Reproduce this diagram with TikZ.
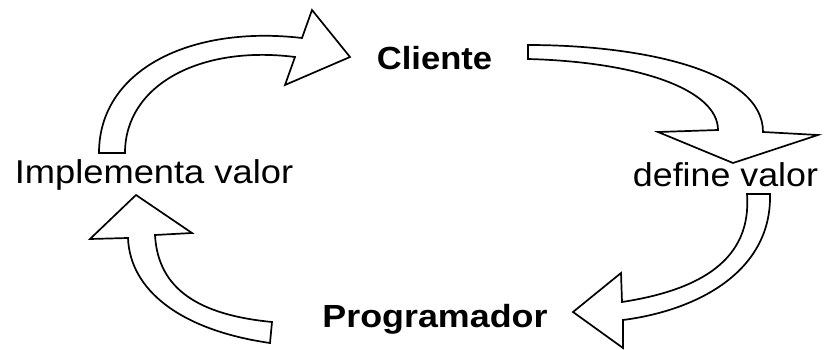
\documentclass[tikz,border=0pt]{standalone}
\usepackage{fontspec}
\setmainfont{Liberation Sans}
\begin{document}
\begin{tikzpicture}[x=1pt,y=-1pt,
  blockarrow/.style={draw=black,fill=white,line width=1.7pt,line join=miter},
  boldlabel/.style={inner sep=0pt,anchor=base,font=\fontsize{32}{36}\selectfont\bfseries},
  plainlabel/.style={inner sep=0pt,anchor=base,font=\fontsize{33}{38}\selectfont}]
\useasboundingbox (0,0) rectangle (824,350);

% labels
\node[boldlabel]  (cliente) at (434.5,70)  {\scalebox{1.08}[1]{Cliente}};
\node[boldlabel]  (prog)    at (435,327)   {\scalebox{1.12}[1]{Programador}};
\node[plainlabel] (impl)    at (154,183)   {\scalebox{1.10}[1]{Implementa valor}};
\node[plainlabel] (define)  at (725.5,186) {\scalebox{1.085}[1]{define valor}};

% Implementa valor -> Cliente
\draw[blockarrow] (99,153) .. controls (99,70) and (190,25) .. (302,38)
  -- (312,10) -- (350,57) -- (285,85) -- (295,57)
  .. controls (200,45) and (125,85) .. (125,153) -- cycle;

% Cliente -> define valor
\draw[blockarrow] (528,45) .. controls (640,45) and (763,70) .. (763,132)
  -- (818,135) -- (733,163) -- (658,132) -- (718,130)
  .. controls (718,90) and (640,62) .. (528,59) -- cycle;

% define valor -> Programador
\draw[blockarrow] (770,194) .. controls (772,270) and (700,310) .. (623,320)
  -- (623,348) -- (573,312) -- (621,273) -- (622,302)
  .. controls (700,290) and (752,260) .. (747,194) -- cycle;

% Programador -> Implementa valor
\draw[blockarrow] (270,343) .. controls (180,330) and (130,290) .. (128,238)
  -- (90,239) -- (136,195) -- (192,233) -- (155,235)
  .. controls (158,290) and (200,315) .. (272,322) -- cycle;
\end{tikzpicture}
\end{document}
